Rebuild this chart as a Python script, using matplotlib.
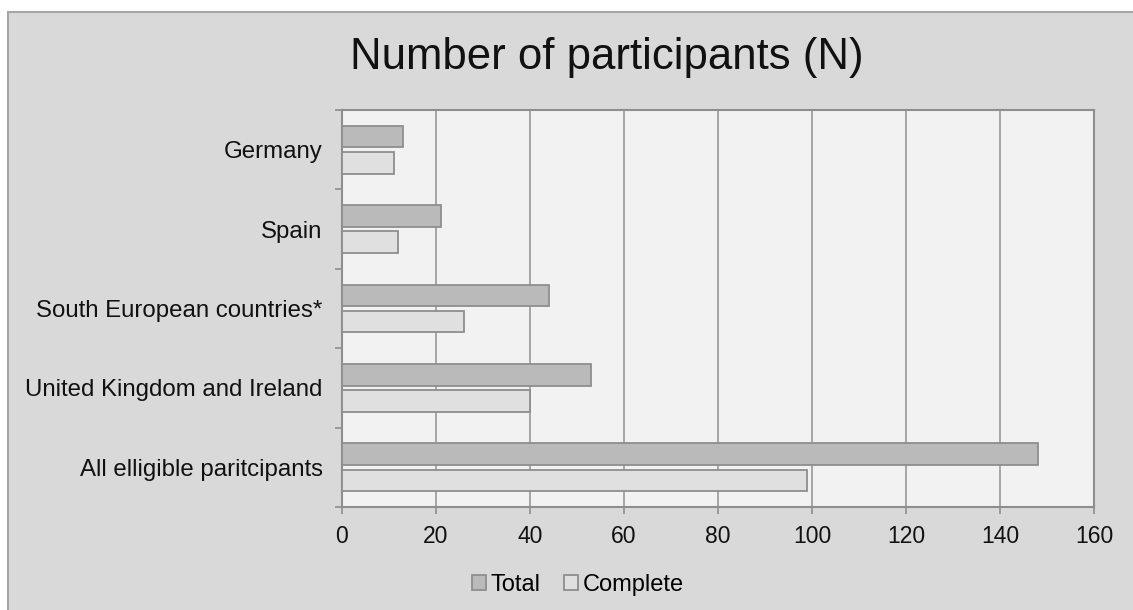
import numpy as np
import matplotlib.pyplot as plt
from matplotlib.patches import Rectangle

plt.rcParams['font.family'] = ['Liberation Sans', 'DejaVu Sans']

groups = ["Germany", "Spain", "South European countries*",
          "United Kingdom and Ireland", "All elligible paritcipants"]
total = [13, 21, 44, 53, 148]
complete = [11, 12, 26, 40, 99]
xticks = [0, 20, 40, 60, 80, 100, 120, 140, 160]

W, H = 1133, 610
fig = plt.figure(figsize=(W / 100, H / 100), dpi=100, facecolor='white')

# grey chart frame
fig.patches.append(Rectangle((8 / W, -0.01), 1.02 - 8 / W, 1 - 12 / H + 0.01,
                             transform=fig.transFigure, facecolor='#d9d9d9',
                             edgecolor='#a6a6a6', linewidth=1.5, zorder=-5))

ax = fig.add_axes([342 / W, 1 - 507 / H, (1094 - 342) / W, (507 - 110) / H])
ax.set_facecolor('#f2f2f2')

y = np.arange(len(groups))
h = 0.27
off = 0.165
ax.barh(y - off, total, height=h, color='#bababa', edgecolor='#8e8e8e',
        linewidth=1.3, label='Total', zorder=3)
ax.barh(y + off, complete, height=h, color='#e0e0e0', edgecolor='#8e8e8e',
        linewidth=1.3, label='Complete', zorder=3)

ax.set_xlim(0, 160)
ax.set_ylim(len(groups) - 0.5, -0.5)
ax.set_xticks(xticks)
ax.tick_params(axis='x', labelsize=16.5, length=5, color='#8e8e8e', width=1.2,
               pad=8, labelcolor='#111111')
ax.xaxis.grid(True, color='#a0a0a0', linewidth=1.3, zorder=1)
ax.set_axisbelow(True)

# category boundaries get tick marks, names sit between them
ax.set_yticks(np.arange(len(groups) + 1) - 0.5)
ax.set_yticklabels([])
ax.tick_params(axis='y', which='major', length=5, color='#8e8e8e', width=1.2)
ax.set_yticks(y, minor=True)
ax.set_yticklabels(groups, minor=True)
ax.tick_params(axis='y', which='minor', length=0, labelsize=17.3, pad=14,
               labelcolor='#111111')

for s in ['left', 'bottom', 'right', 'top']:
    ax.spines[s].set_color('#8e8e8e')
    ax.spines[s].set_linewidth(1.5)

fig.text(607 / W, 1 - 57 / H, 'Number of participants (N)', ha='center',
         va='center', fontsize=31.5, color='#111111')

fig.legend(loc='center', bbox_to_anchor=(578 / W, 1 - 585 / H), ncol=2,
           frameon=False, fontsize=17, handlelength=0.6, handleheight=0.6,
           handletextpad=0.2, columnspacing=1.0)

fig.savefig('out.png', dpi=100, facecolor='white')
